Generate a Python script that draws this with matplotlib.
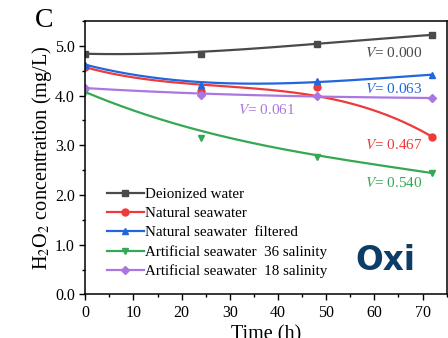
import numpy as np
import matplotlib.pyplot as plt
from matplotlib.ticker import MultipleLocator

# sampling times (h) and measured H2O2 concentration (mg/L)
time_h = [0, 24, 48, 72]
deionized = [4.83, 4.84, 5.03, 5.22]
natural = [4.57, 4.10, 4.17, 3.17]
natural_filtered = [4.62, 4.21, 4.29, 4.42]
artificial_36 = [4.07, 3.14, 2.77, 2.44]
artificial_18 = [4.15, 4.02, 4.00, 3.95]

# smoothed trend values at the same times
deionized_fit = [4.84, 4.88, 5.04, 5.22]
natural_fit = [4.57, 4.22, 3.99, 3.17]
natural_filtered_fit = [4.62, 4.27, 4.27, 4.42]
artificial_36_fit = [4.07, 3.29, 2.80, 2.44]
artificial_18_fit = [4.15, 4.04, 3.98, 3.95]

labels = ["Deionized water", "Natural seawater", "Natural seawater  filtered",
          "Artificial seawater  36 salinity", "Artificial seawater  18 salinity"]
colors = ["#4a4a4a", "#ee3a3a", "#2266dd", "#35a853", "#aa77e0"]
markers = ["s", "o", "^", "v", "D"]
rates = ["0.000", "0.467", "0.063", "0.540", "0.061"]
rate_pos = [(70, 4.85, "right"), (70, 3.01, "right"), (70, 4.14, "right"),
            (70, 2.24, "right"), (37.7, 3.71, "center")]

plt.rcParams['font.family'] = ['Liberation Serif', 'DejaVu Serif']
plt.rcParams['mathtext.fontset'] = 'stix'

fig = plt.figure(figsize=(4.48, 3.38), dpi=100)
ax = fig.add_axes([0.1904, 0.129, 0.8066, 0.809])

series = [deionized, natural, natural_filtered, artificial_36, artificial_18]
trends = [deionized_fit, natural_fit, natural_filtered_fit, artificial_36_fit, artificial_18_fit]
xs = np.linspace(time_h[0], time_h[-1], 200)
for y, yf, lab, c, m in zip(series, trends, labels, colors, markers):
    ms = 4.5 if m == 'D' else 5
    coef = np.polyfit(time_h, yf, 3)
    ax.plot(xs, np.polyval(coef, xs), color=c, lw=1.6)
    ax.plot(time_h, y, ls='none', marker=m, color=c, ms=ms)
    ax.plot([], [], color=c, lw=1.6, marker=m, ms=ms, label=lab)

for r, c, (xp, yp, ha) in zip(rates, colors, rate_pos):
    ax.text(xp, yp, "$\\mathit{V}$= " + r, color=c, fontsize=11, ha=ha, va='center')

ax.text(62.3, 0.5, "Oxi", color="#0b3d66", fontsize=23.5, fontweight='bold',
        family='DejaVu Sans', ha='center', va='baseline')

ax.set_xlim(0, 75)
ax.set_ylim(0, 5.5)
ax.xaxis.set_major_locator(MultipleLocator(10))
ax.xaxis.set_minor_locator(MultipleLocator(5))
ax.yaxis.set_major_locator(MultipleLocator(1))
ax.yaxis.set_minor_locator(MultipleLocator(0.5))
ax.yaxis.set_major_formatter(plt.FormatStrFormatter('%.1f'))
ax.tick_params(which='major', direction='out', length=4, width=1, labelsize=11.5)
ax.tick_params(which='minor', direction='out', length=2.5, width=1)
for s in ax.spines.values():
    s.set_linewidth(1.1)

ax.set_xlabel("Time (h)", fontsize=14.5, labelpad=3)
ax.set_ylabel("H$_2$O$_2$ concentration (mg/L)", fontsize=14.6, labelpad=1)

ax.legend(loc='lower left', bbox_to_anchor=(0.03, 0.02), frameon=False,
          fontsize=10.8, handlelength=2.5, handletextpad=0.05,
          labelspacing=0.38, borderpad=0.2)

fig.text(0.098, 0.94, "C", fontsize=20, ha='center', va='center')

fig.savefig("out.png", dpi=100)
